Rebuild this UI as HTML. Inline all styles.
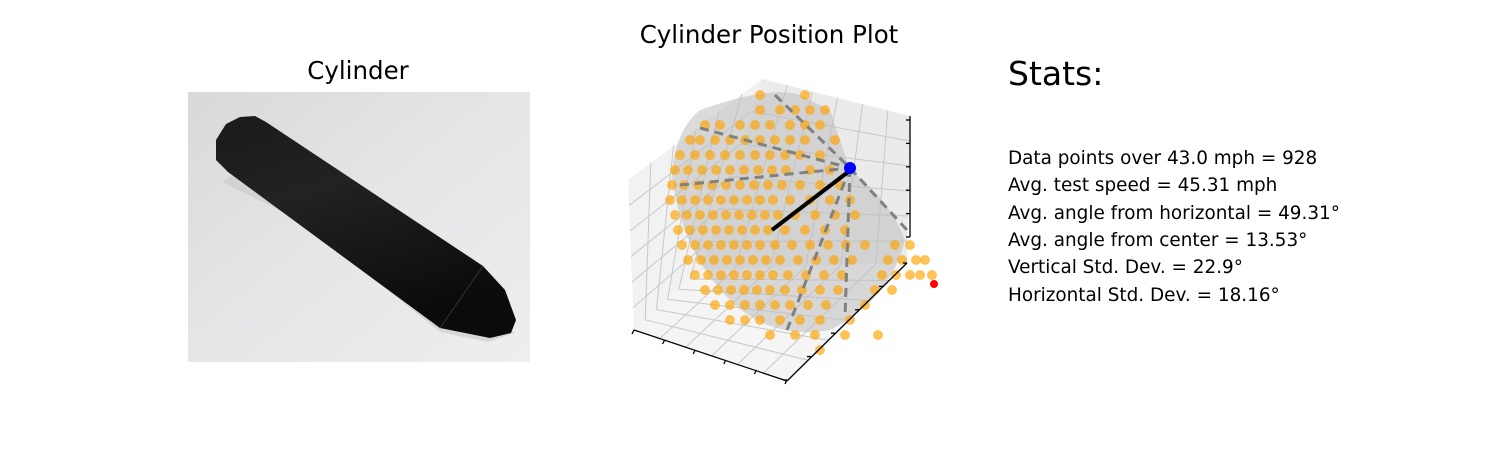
<!DOCTYPE html>
<html><head><meta charset="utf-8"><style>
body{margin:0;background:#fff;}
svg{display:block;font-family:"DejaVu Sans","Liberation Sans",sans-serif;}
</style></head><body>
<svg id="fig" width="1500" height="450" viewBox="0 0 1500 450">
<defs>
<linearGradient id="bg" x1="0" y1="0" x2="1" y2="1">
<stop offset="0" stop-color="#d9d9db"/><stop offset="0.5" stop-color="#e6e6e8"/><stop offset="1" stop-color="#eeeeee"/>
</linearGradient>
<linearGradient id="cyl" x1="0" y1="0" x2="0.4" y2="1">
<stop offset="0" stop-color="#1a1a1a"/><stop offset="0.4" stop-color="#222"/><stop offset="1" stop-color="#0b0b0b"/>
</linearGradient>
</defs>
<text x="358" y="79" font-size="24.5" text-anchor="middle">Cylinder</text>
<g>
<rect x="188" y="92" width="342" height="270" fill="url(#bg)"/>
<polygon points="222,182 300,220 440,332 488,342 515,333 470,300 240,170" fill="#c9c9cc" opacity="0.6"/>
<polygon points="216,140 226,124 240,117 255,116 266,122 483,266 505,290 516,320 511,333 490,338 440,328 228,172 216,160" fill="url(#cyl)"/>
<line x1="440" y1="328" x2="483" y2="266" stroke="#333" stroke-width="1"/>
</g>
<text x="769" y="43" font-size="24.5" text-anchor="middle">Cylinder Position Plot</text>
<g id="plot3d">
<polygon points="628,180 762,79 700,270 634,330" fill="#f2f2f2"/>
<polygon points="762,79 910,116 907,263 700,270" fill="#ebebeb"/>
<polygon points="634,330 700,270 907,263 787,380" fill="#f5f5f5"/>
<g stroke="#c8c8c8" stroke-width="1" fill="none" id="grid"></g>
<path d="M700,110 Q770,85 800,95 L830,110 L850,170 Q890,200 905,240 Q890,300 830,330 Q770,340 730,300 Q680,250 672,175 Q675,130 700,110 Z" fill="#bdbdbd" opacity="0.55"/>
<g id="pts"></g>
<g stroke="#808080" stroke-width="3" stroke-dasharray="9,6" fill="none">
<line x1="700" y1="128" x2="850" y2="168"/><line x1="680" y1="185" x2="850" y2="168"/>
<line x1="775" y1="95" x2="850" y2="168"/><line x1="850" y1="168" x2="907" y2="230"/>
<line x1="850" y1="168" x2="845" y2="318"/><line x1="850" y1="168" x2="787" y2="330"/>
</g>
<line x1="772" y1="230" x2="848" y2="172" stroke="#000" stroke-width="4"/>
<circle cx="850" cy="168" r="6" fill="#0000ff"/>
<circle cx="934" cy="284" r="4" fill="#ff0000"/>
<g stroke="#000" stroke-width="1.3" fill="none" id="axes">
<line x1="634" y1="330" x2="787" y2="381"/><line x1="787" y1="381" x2="907" y2="263"/><line x1="910" y1="116" x2="910" y2="237"/>
</g>
</g>
<text x="1008" y="85" font-size="33">Stats:</text>
<g font-size="18.4">
<text x="1008" y="164">Data points over 43.0 mph = 928</text>
<text x="1008" y="191">Avg. test speed = 45.31 mph</text>
<text x="1008" y="219">Avg. angle from horizontal = 49.31°</text>
<text x="1008" y="246">Avg. angle from center = 13.53°</text>
<text x="1008" y="273">Vertical Std. Dev. = 22.9°</text>
<text x="1008" y="301">Horizontal Std. Dev. = 18.16°</text>
</g>
</svg>
<script>
// projected scatter coordinates (plot frame units), grouped by row
const rowV=[25,40,55,70,85,100,115,130,145,160,175,190,205,220,235,250,265,280];
const rowU=[
[140,185],
[140,160,175,190,205],
[85,100,120,135,150,170,185,200],
[70,80,95,110,125,140,155,170,185,215],
[60,75,90,105,120,135,150,165,180,200],
[55,68,82,96,110,124,138,152,166,190,210],
[52,64,78,92,106,120,134,148,162,180,200,220],
[50,62,75,88,101,114,127,140,153,170,190,210,230],
[55,67,80,93,106,119,132,145,158,175,195,215,235],
[58,70,83,96,109,122,135,148,165,185,205,225],
[62,75,88,101,114,127,140,155,172,190,208,226,245,275,290],
[68,81,94,107,120,133,146,160,178,196,214,232,268,282,296,305],
[75,88,101,114,127,140,153,168,186,204,222,262,276,290,300,312],
[85,98,111,124,137,150,165,182,200,218,255,272],
[95,110,125,140,155,170,188,206,245],
[110,125,140,160,180,200,230],
[150,175,195,225,258],
[200]];
const xS=u=>620+u, yS=v=>70+v;
const NS='http://www.w3.org/2000/svg';
const g=document.getElementById('pts');
for(let r=0;r<rowV.length;r++){for(const u of rowU[r]){
  const c=document.createElementNS(NS,'circle');
  c.setAttribute('cx',xS(u));c.setAttribute('cy',yS(rowV[r]));c.setAttribute('r',4.5);
  c.setAttribute('fill','#ffa500');c.setAttribute('fill-opacity','0.65');
  c.setAttribute('stroke','#ffa500');c.setAttribute('stroke-opacity','0.5');
  
  
  g.appendChild(c);
}}
const grid=document.getElementById('grid');
function L(par,a,b,c,d){const l=document.createElementNS(NS,'line');l.setAttribute('x1',a);l.setAttribute('y1',b);l.setAttribute('x2',c);l.setAttribute('y2',d);


par.appendChild(l);}
const lerp=(p,q,t)=>[p[0]+(q[0]-p[0])*t,p[1]+(q[1]-p[1])*t];
const A=[628,180],B=[762,79],C=[700,270],D=[634,330],E=[910,116],F=[907,263],G=[787,380];
for(let t=0.17;t<1;t+=0.17){let p=lerp(A,D,t),q=lerp(B,C,t);L(grid,...p,...q);p=lerp(B,E,t);q=lerp(C,F,t);L(grid,...p,...q);
p=lerp(B,C,t);q=lerp(E,F,t);L(grid,...p,...q);p=lerp(A,B,t);q=lerp(D,C,t);L(grid,...p,...q);
p=lerp(D,G,t);q=lerp(C,F,t);L(grid,...p,...q);p=lerp(D,C,t);q=lerp(G,F,t);L(grid,...p,...q);}
const ax=document.getElementById('axes');
for(let t=0;t<=1.001;t+=0.2){let p=lerp(D,G,t);L(ax,p[0],p[1],p[0]-2,p[1]+4);p=lerp(G,F,t);L(ax,p[0],p[1],p[0]-4,p[1]);p=lerp([910,120],[910,237],t);L(ax,p[0],p[1],p[0]-4,p[1]);}
</script>
</body></html>
